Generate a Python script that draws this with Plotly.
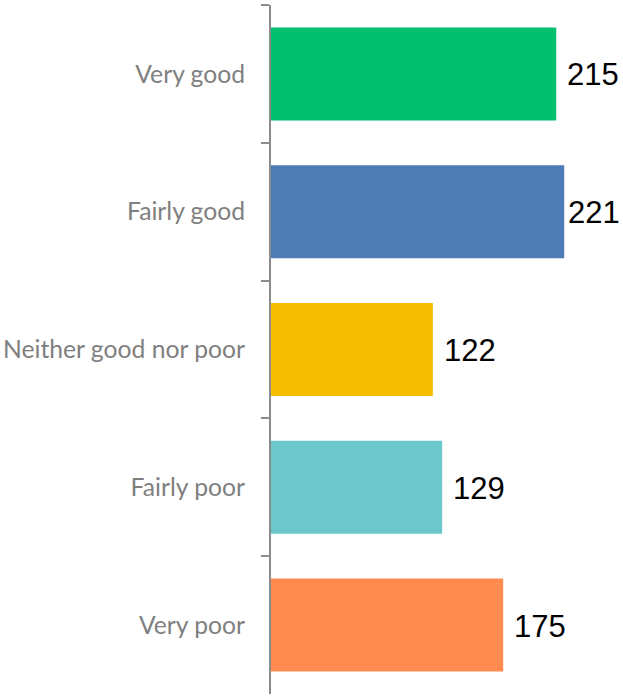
import plotly.graph_objects as go

categories = ["Very good", "Fairly good", "Neither good nor poor", "Fairly poor", "Very poor"]
values = [215, 221, 122, 129, 175]
colors = ["#00BF6F", "#4E7BB4", "#F7BE00", "#6CC8CC", "#FF8B50"]

X_MAX = 265.3
PLOT_W = 623 - 271
LABEL_SIZE = 31

fig = go.Figure()
fig.add_trace(go.Bar(
    y=categories, x=values, orientation="h",
    marker=dict(color=colors, line=dict(width=0)),
    hoverinfo="skip",
))

for c, v in zip(categories, values):
    txt = str(v)
    est_w = len(txt) * 0.556 * LABEL_SIZE
    end_px = v / X_MAX * PLOT_W + 9 + est_w
    if end_px > PLOT_W - 1:
        fig.add_annotation(
            x=X_MAX, y=c, text=txt, showarrow=False,
            xanchor="right", yanchor="middle", xshift=-1, yshift=-1,
            font=dict(family="Liberation Sans, Arial, sans-serif", size=LABEL_SIZE, color="#000000"),
        )
    else:
        fig.add_annotation(
            x=v, y=c, text=txt, showarrow=False,
            xanchor="left", yanchor="middle", xshift=9, yshift=-1,
            font=dict(family="Liberation Sans, Arial, sans-serif", size=LABEL_SIZE, color="#000000"),
        )

fig.update_layout(
    width=623, height=697,
    margin=dict(l=271, r=0, t=5, b=3),
    paper_bgcolor="white", plot_bgcolor="white",
    showlegend=False,
    bargap=0.325,
    xaxis=dict(range=[0, X_MAX], visible=False, showgrid=False, zeroline=False, fixedrange=True),
    yaxis=dict(
        categoryorder="array", categoryarray=categories, autorange="reversed",
        showline=True, linecolor="#8c8c8c", linewidth=2,
        ticks="outside", ticklen=8, tickcolor="#8c8c8c", tickwidth=2,
        tickson="boundaries", showgrid=False, zeroline=False, fixedrange=True,
        tickfont=dict(family="Lato, Open Sans, sans-serif", size=24.7, color="#7f7f7f"),
        ticklabelstandoff=19,
    ),
)

fig.write_html("out.html", config={"displayModeBar": False},
               post_script="document.body.style.margin='0px';")
